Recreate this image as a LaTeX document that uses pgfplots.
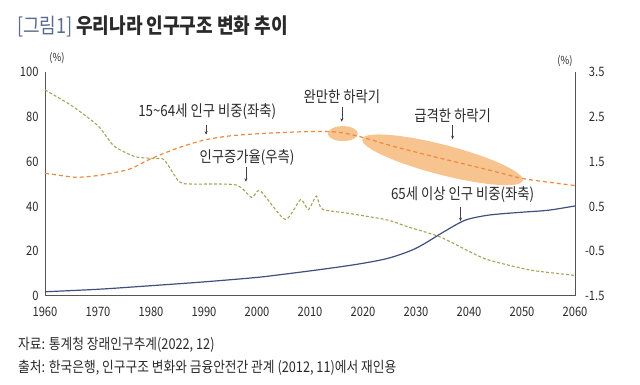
\documentclass[border=0pt]{standalone}
\usepackage{fontspec}
\setmainfont[FakeStretch=0.86]{Noto Sans CJK KR}
\usepackage{pgfplots}
\pgfplotsset{compat=1.18}
\usetikzlibrary{shapes.geometric,arrows.meta}
\definecolor{orangeL}{HTML}{EE8A3E}
\definecolor{greenL}{HTML}{A2A45C}
\definecolor{blueL}{HTML}{3F4F7E}
\definecolor{peach}{HTML}{F7C490}
\definecolor{axisgray}{HTML}{555555}
\definecolor{titleblue}{HTML}{5C6B8C}
\definecolor{arrowc}{HTML}{4A3A50}
\definecolor{txt}{HTML}{2A2A2A}

\pgfplotstableread{
year val
1960 54.8
1963 53.8
1966 53.0
1970 53.8
1975 56.0
1977 57.7
1980 61.3
1985 66.0
1990 69.6
1995 71.5
2000 72.4
2005 73.0
2010 73.4
2015 73.2
2019 71.4
2025 67.3
2030 64.2
2036 60.7
2040 58.4
2045 55.5
2050 52.5
2055 50.8
2060 49.3
}\workage

\pgfplotstableread{
year val
1960 1.9
1970 3.0
1980 4.6
1990 6.3
2000 8.3
2005 9.7
2010 11.2
2015 12.8
2020 14.6
2025 17.0
2030 21.3
2035 28.3
2038 32.4
2040 34.4
2044 36.2
2050 37.4
2055 38.3
2060 40.2
}\elderly

\pgfplotstableread{
year val
1960 3.10
1965 2.75
1970 2.30
1973 1.85
1977 1.61
1980.6 1.57
1982.5 1.54
1985.3 1.05
1987.6 1.00
1996 0.98
1999 0.70
2000.6 0.85
2005.3 0.21
2008.2 0.65
2009.7 0.43
2011.2 0.73
2012.3 0.44
2017 0.35
2024.5 0.20
2028.3 0.05
2034.5 -0.18
2040.8 -0.55
2043.8 -0.70
2051.5 -0.92
2059.2 -1.03
2060 -1.05
}\growth

\begin{document}
\begin{tikzpicture}[x=1pt,y=1pt]
\path (0,0) rectangle (640,385);
\node[anchor=west, inner sep=0] at (17,359) {\fontsize{21}{24}\selectfont\textcolor{titleblue}{[그림1]}\,\textcolor{txt}{\bfseries 우리나라 인구구조 변화 추이}};
\node[inner sep=0, text=txt] at (57,327) {\fontsize{11}{12}\selectfont (\%)};
\node[inner sep=0, text=txt] at (565,324) {\fontsize{11}{12}\selectfont (\%)};
\node[anchor=west, inner sep=0, text=txt] at (18,40) {\fontsize{14.8}{16}\selectfont 자료: 통계청 장래인구추계(2022, 12)};
\node[anchor=west, inner sep=0, text=txt] at (18,17) {\fontsize{14.8}{16}\selectfont 출처: 한국은행, 인구구조 변화와 금융안전간 관계 (2012, 11)에서 재인용};

\begin{axis}[
  at={(45pt,89pt)}, anchor=south west,
  scale only axis, width=530pt, height=224pt,
  xmin=1960, xmax=2060, ymin=0, ymax=100,
  axis x line*=bottom, axis y line*=left,
  axis line style={axisgray, line width=1pt, -},
  xtick={1960,1970,...,2060}, ytick={0,20,...,100},
  major tick length=0pt,
  /pgf/number format/assume math mode=true,
  /pgf/number format/1000 sep={},
  tick label style={font=\fontsize{13}{13}\selectfont, text=txt},
  xticklabel style={yshift=-8pt},
  yticklabel style={xshift=-3pt},
  clip=false,
]
\node[ellipse, fill=peach, minimum width=30pt, minimum height=15pt, inner sep=0] at (axis cs:2016.2,72.5) {};
\node[ellipse, fill=peach, minimum width=166pt, minimum height=30pt, inner sep=0, rotate=-14.5] at (axis cs:2035,60.8) {};
\addplot[orangeL, line width=1.2pt, dash pattern=on 4pt off 3pt, smooth] table[x=year,y=val] {\workage};
\addplot[blueL, line width=1.2pt, smooth] table[x=year,y=val] {\elderly};
\begin{scope}[every node/.style={font=\fontsize{15.5}{16}\selectfont, text=txt, inner sep=0}]
\node at (axis cs:1990.6,82.3) {15\textasciitilde64세 인구 비중(좌축)};
\node at (axis cs:2016,88.8) {완만한 하락기};
\node at (axis cs:2036.9,80.4) {급격한 하락기};
\node at (axis cs:1998.1,61.7) {인구증가율(우측)};
\node at (axis cs:2038.8,45.1) {65세 이상 인구 비중(좌축)};
\end{scope}
\begin{scope}[arrowc, line width=0.6pt, -{Stealth[length=3.5pt,width=3pt]}]
\draw (axis cs:1990.4,76.2) -- (axis cs:1990.4,72.0);
\draw (axis cs:2016,84.5) -- (axis cs:2016,77.8);
\draw (axis cs:2036.9,76.3) -- (axis cs:2036.9,70.0);
\draw (axis cs:1997.9,57.7) -- (axis cs:1997.9,51.0);
\draw (axis cs:2038.4,39.9) -- (axis cs:2038.4,33.4);
\end{scope}
\end{axis}

\begin{axis}[
  at={(45pt,89pt)}, anchor=south west,
  scale only axis, width=530pt, height=224pt,
  xmin=1960, xmax=2060, ymin=-1.5, ymax=3.5,
  axis x line=none, axis y line*=right,
  axis line style={axisgray, line width=1pt, -},
  ytick={-1.5,-0.5,0.5,1.5,2.5,3.5},
  major tick length=0pt,
  /pgf/number format/assume math mode=true,
  tick label style={font=\fontsize{13}{13}\selectfont, text=txt},
  yticklabel style={anchor=east, xshift=33pt, /pgf/number format/.cd, fixed, fixed zerofill, precision=1},
  clip=false,
]
\addplot[greenL, line width=1.1pt, dash pattern=on 3pt off 2pt, smooth, tension=0.4] table[x=year,y=val] {\growth};
\end{axis}
\end{tikzpicture}
\end{document}
